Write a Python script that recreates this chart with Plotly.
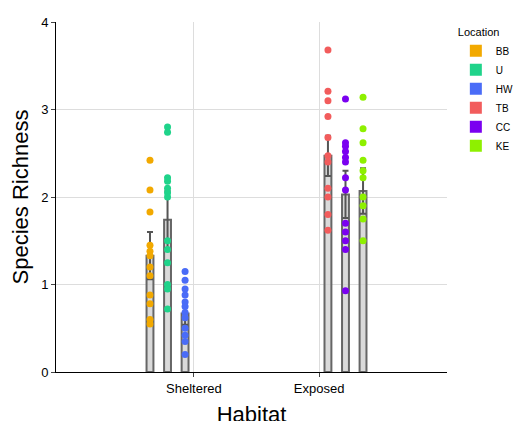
import plotly.graph_objects as go

# Locations, their habitat group and colour
locations = ['BB', 'U', 'HW', 'TB', 'CC', 'KE']
colors = ['#F2A900', '#1FD38A', '#4A6CF7', '#F25C5C', '#7A00F0', '#8EF000']
# bar position on a numeric axis (Sheltered tick at 0, Exposed tick at 1)
x_pos = [-0.35, -0.21, -0.07, 1.07, 1.21, 1.35]

means = [1.33, 1.74, 0.67, 2.47, 2.03, 2.07]
errors = [0.27, 0.33, 0.13, 0.23, 0.27, 0.26]

points = {
    'BB': [2.42, 2.08, 1.83, 1.45, 1.38, 1.33, 1.2, 1.1, 0.88, 0.78, 0.6, 0.55],
    'U':  [2.8, 2.74, 2.22, 2.18, 2.1, 2.05, 2.0, 1.5, 1.4, 1.25, 1.0, 0.95, 0.72],
    'HW': [1.15, 1.05, 0.95, 0.88, 0.8, 0.75, 0.68, 0.62, 0.5, 0.42, 0.35, 0.2],
    'TB': [3.68, 3.21, 3.1, 2.92, 2.68, 2.47, 2.4, 2.1, 2.0, 1.8, 1.62],
    'CC': [3.12, 2.62, 2.58, 2.52, 2.45, 2.4, 2.22, 2.08, 1.7, 1.6, 1.5, 1.4, 0.93],
    'KE': [3.14, 2.78, 2.62, 2.42, 2.3, 2.22, 2.0, 1.9, 1.75, 1.5],
}

habitats = ['Sheltered', 'Exposed']
habitat_ticks = [0, 1]

fig = go.Figure()

# raw points (drawn under the bars)
for loc, col, xp in zip(locations, colors, x_pos):
    fig.add_trace(go.Scatter(
        x=[xp] * len(points[loc]), y=points[loc],
        mode='markers',
        marker=dict(size=7, color=col),
        showlegend=False,
        hoverinfo='y',
    ))

# mean bars with error bars
fig.add_trace(go.Bar(
    x=x_pos, y=means,
    width=0.055,
    marker=dict(color='rgba(205,205,205,0.75)',
                line=dict(color='#666', width=2)),
    error_y=dict(type='data', array=errors, color='#555', thickness=2, width=3),
    showlegend=False,
))

# legend entries with square swatches
for loc, col in zip(locations, colors):
    fig.add_trace(go.Scatter(
        x=[None], y=[None], mode='markers', name=loc,
        marker=dict(symbol='square', size=9, color=col),
    ))

fig.update_xaxes(
    range=[-1.10, 2.02],
    tickvals=habitat_ticks, ticktext=habitats,
    showgrid=True, gridcolor='#DDD', zeroline=False,
    showline=True, linecolor='black', linewidth=1,
    ticks='outside', ticklen=4,
    title=dict(text='Habitat', font=dict(size=22), standoff=12),
    tickfont=dict(size=13),
    automargin=False,
)
fig.update_yaxes(
    range=[0, 4], dtick=1,
    showgrid=True, gridcolor='#DDD', zeroline=False,
    showline=True, linecolor='black', linewidth=1,
    ticks='outside', ticklen=4,
    title=dict(text='Species Richness', font=dict(size=22), standoff=8),
    tickfont=dict(size=13),
    automargin=False,
)

fig.update_layout(
    width=522, height=421,
    plot_bgcolor='white', paper_bgcolor='white',
    font=dict(family='Arial, Liberation Sans, sans-serif', color='black'),
    margin=dict(l=48, r=82, t=14, b=57),
    barmode='overlay',
    legend=dict(title=dict(text='Location', font=dict(size=11)),
                font=dict(size=10), x=1.02, y=1, yanchor='top',
                itemsizing='constant'),
)

fig.write_html("out.html")
